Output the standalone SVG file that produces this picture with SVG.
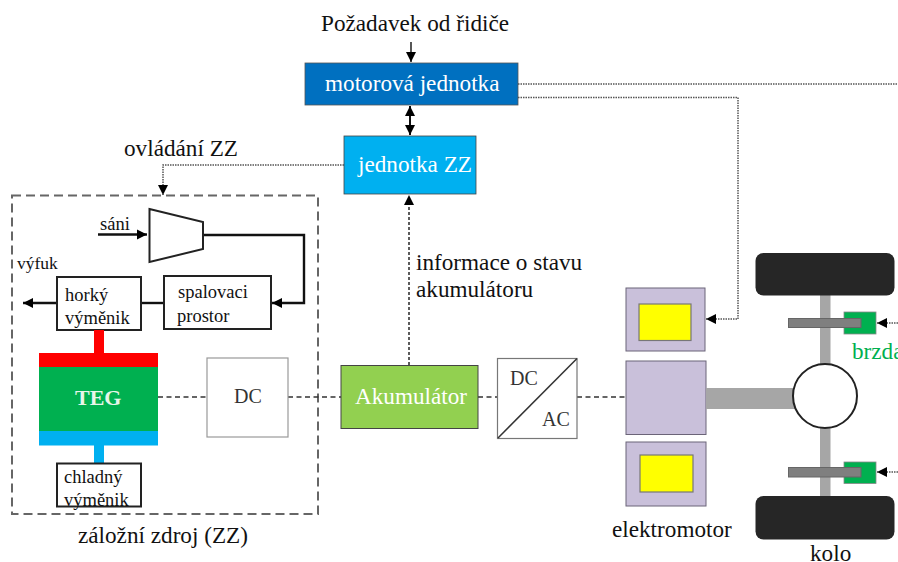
<svg xmlns="http://www.w3.org/2000/svg" width="898" height="562" viewBox="0 0 898 562">
<style>
text{font-family:"Liberation Serif","Times New Roman",serif;fill:#111}
.t20{font-size:23.200px}
.t17{font-size:18.500px}
.w{fill:#fff}
.blk{fill:#fff;stroke:#222;stroke-width:2}
.pur{fill:#c9c0da;stroke:#6b6478;stroke-width:1}
.yel{fill:#ff0;stroke:#777;stroke-width:1.2}
.gry{fill:#a6a6a6}
.disc{fill:#7f7f7f;stroke:#666;stroke-width:1}
.brk{fill:#00b050;stroke:#888;stroke-width:.8}
.tyre{fill:#262626}
.dot{fill:none;stroke:#555;stroke-width:1.5;stroke-dasharray:1.5 1}
.dash{fill:none;stroke:#333;stroke-width:1.6;stroke-dasharray:5 3.5}
.sol{fill:none;stroke:#111;stroke-width:2.4}
.thin{fill:none;stroke:#111;stroke-width:1.4}
</style>
<defs>
<marker id="a" markerUnits="userSpaceOnUse" markerWidth="12" markerHeight="12" refX="10" refY="6" orient="auto-start-reverse"><path d="M0 1 L10 6 L0 11Z" fill="#000"/></marker>
</defs>
<g id="container"><rect x="12" y="195.500" width="306" height="318.500" fill="none" stroke="#666" stroke-width="2" stroke-dasharray="9 5"/></g>
<g id="labels">
<text class="t20" x="321" y="31">Požadavek od řidiče</text>
<text class="t20" x="124" y="156">ovládání ZZ</text>
<text class="t20" x="416" y="270">informace o stavu</text>
<text class="t20" x="416" y="297">akumulátoru</text>
<text class="t17" x="100" y="230">sáni</text>
<text class="t17" x="17" y="269" style="font-size:17.500px">výfuk</text>
<text class="t20" x="78" y="543">záložní zdroj (ZZ)</text>
<text class="t20" x="612" y="537">elektromotor</text>
<text class="t20" x="810" y="561">kolo</text>
<text class="t20" x="852" y="359" style="fill:#00b050">brzda</text>
</g>
<g id="connectors">
<path class="dot" d="M518 84H898"/>
<path class="dot" d="M518 97.500H738V319H706" marker-end="url(#a)"/>
<path class="dot" d="M344 165H163V195" marker-end="url(#a)"/>
<path class="thin" d="M411 42V62" marker-end="url(#a)"/>
<path class="sol" d="M410 106V135" marker-start="url(#a)" marker-end="url(#a)" style="stroke-width:2"/>
<path class="dash" d="M409 365V195" marker-end="url(#a)" style="stroke-dasharray:3 2"/>
<path class="sol" d="M98 234.500H147" marker-end="url(#a)"/>
<path class="sol" d="M203 235H304V303H272" marker-end="url(#a)"/>
<path class="sol" d="M164 303H141"/>
<path class="sol" d="M57 303H23" marker-end="url(#a)"/>
<path class="dash" d="M158 397H207"/>
<path class="dash" d="M288 397H341"/>
<path class="dash" d="M478 397H497"/>
<path class="dash" d="M577 397H626"/>
<path class="dot" d="M898 323H877" marker-end="url(#a)"/>
<path class="dot" d="M898 472H877" marker-end="url(#a)"/>
</g>
<g id="motorova-jednotka"><rect x="305" y="63" width="213" height="42" fill="#0070c0" stroke="#555" stroke-width=".8"/><text class="t20 w" x="325" y="91">motorová jednotka</text></g>
<g id="jednotka-zz"><rect x="344" y="136" width="132" height="58" fill="#00b0f0" stroke="#444" stroke-width=".8"/><text class="t20 w" x="358" y="172">jednotka ZZ</text></g>
<g id="kompresor"><path class="blk" d="M149.500 209L203 222V249L149.500 262Z"/></g>
<g id="spalovaci-prostor"><rect class="blk" x="164" y="276" width="107" height="53"/><text class="t17" x="178" y="298">spalovaci</text><text class="t17" x="177" y="322">prostor</text></g>
<g id="horky-vymenik"><rect class="blk" x="57" y="277" width="84" height="53"/><text class="t17" x="65" y="301">horký</text><text class="t17" x="65" y="324">výměnik</text></g>
<g id="teg">
<rect x="94" y="330" width="10" height="23" fill="#f00"/>
<rect x="39" y="353" width="119" height="14" fill="#f00"/>
<rect x="39" y="367" width="119" height="64" fill="#00b050"/>
<rect x="39" y="431" width="119" height="14.500" fill="#00b0f0"/>
<rect x="94" y="445" width="10" height="18" fill="#00b0f0"/>
<text x="75" y="405" style="font-size:22px;font-weight:bold;fill:#e8f5e9">TEG</text>
</g>
<g id="chladny-vymenik"><rect class="blk" x="57" y="463.500" width="84" height="43"/><text class="t17" x="64" y="483">chladný</text><text class="t17" x="64" y="506">výměnik</text></g>
<g id="dc"><rect x="207" y="358" width="81" height="79" fill="#fff" stroke="#999" stroke-width="1.200"/><text x="234" y="403" style="font-size:20px;fill:#333">DC</text></g>
<g id="akumulator"><rect x="341" y="365.500" width="137" height="63" fill="#92d050" stroke="#444" stroke-width="1"/><text class="t20 w" x="355" y="404">Akumulátor</text></g>
<g id="dc-ac"><rect x="497.500" y="358.500" width="79.500" height="80" fill="#fff" stroke="#777" stroke-width="1.200"/><path d="M498 438L577 358.500" stroke="#333" stroke-width="1.500"/><text x="510" y="385" style="font-size:20px;fill:#333">DC</text><text x="542" y="426" style="font-size:20px;fill:#333">AC</text></g>
<g id="elektromotor">
<rect class="pur" x="626" y="288" width="79" height="63"/><rect class="yel" x="639" y="304" width="52" height="36.500"/>
<rect class="pur" x="626" y="361" width="80" height="73.500"/>
<rect class="pur" x="626" y="442" width="80" height="64"/><rect class="yel" x="640" y="455" width="53" height="37"/>
</g>
<g id="naprava">
<rect class="gry" x="706" y="388" width="92" height="21"/>
<rect class="gry" x="820" y="295" width="10.500" height="205"/>
<circle cx="825" cy="396" r="32" fill="#fff" stroke="#222" stroke-width="2"/>
</g>
<g id="kolo-horni"><rect class="tyre" x="755.500" y="253" width="139" height="42.500" rx="8"/></g>
<g id="kolo-dolni"><rect class="tyre" x="755.500" y="496" width="139" height="43.500" rx="8"/></g>
<g id="brzda-horni"><rect class="brk" x="844" y="312" width="32" height="22"/><rect class="disc" x="788.500" y="318.500" width="72.500" height="9"/></g>
<g id="brzda-dolni"><rect class="brk" x="844" y="462" width="32" height="21.500"/><rect class="disc" x="788.500" y="467.500" width="72.500" height="9.500"/></g>
</svg>
